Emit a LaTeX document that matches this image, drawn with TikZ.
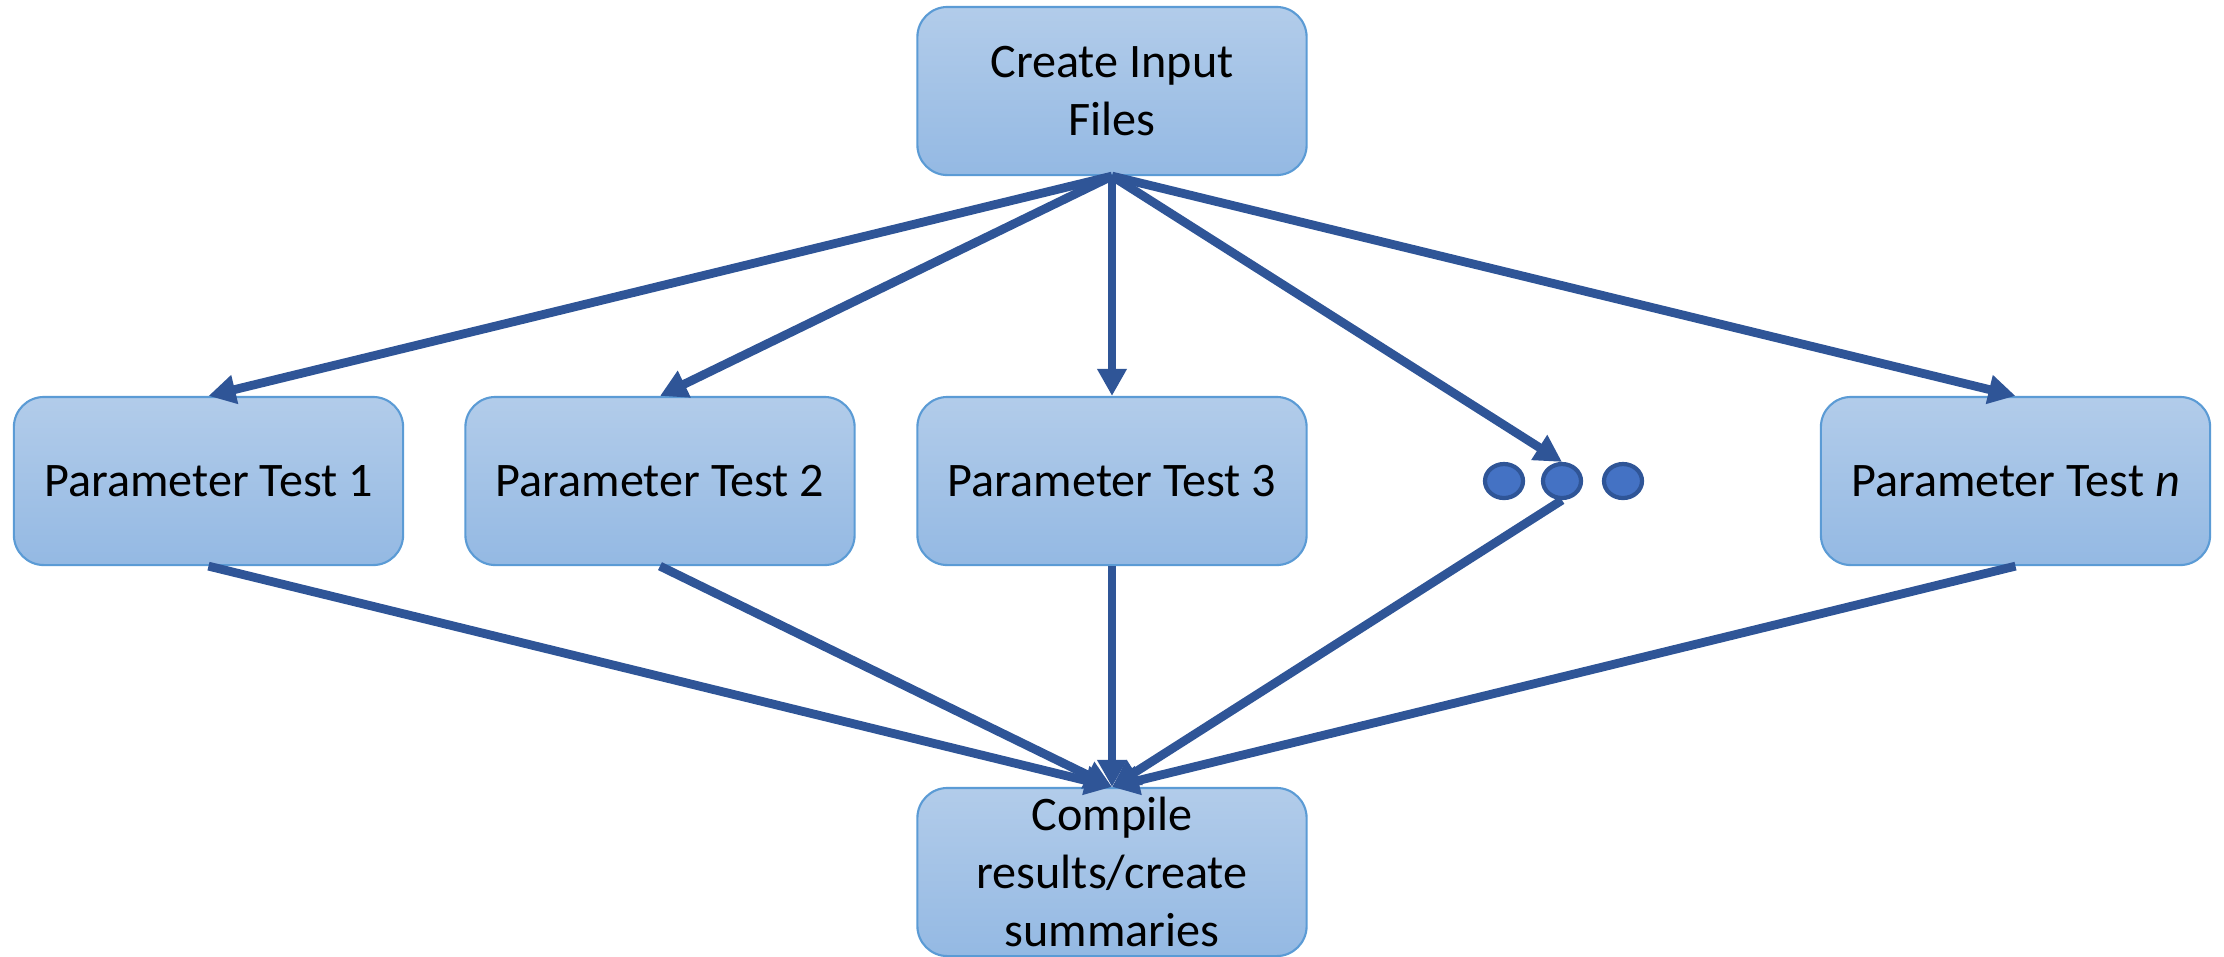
\documentclass[tikz,border=0pt]{standalone}
\usepackage{fontspec}
\setmainfont{Carlito}
\usetikzlibrary{arrows.meta,shapes.geometric}
\definecolor{arrowblue}{RGB}{47,85,151}
\definecolor{boxtop}{RGB}{178,204,234}
\definecolor{boxbot}{RGB}{148,185,227}
\definecolor{boxedge}{RGB}{91,155,213}
\definecolor{dotfill}{RGB}{68,114,196}
\tikzset{
  stepbox/.style={draw=boxedge, line width=0.6pt, rounded corners=0.3cm,
    top color=boxtop, bottom color=boxbot, minimum width=3.89cm, minimum height=1.68cm,
    inner sep=0pt, align=center, font=\fontsize{13.7}{16.4}\selectfont, text=black},
  dotnode/.style={ellipse, draw=arrowblue, fill=dotfill, line width=1.2pt, minimum width=0.38cm, minimum height=0.34cm, inner sep=0pt},
  conn/.style={draw=arrowblue, line width=2.5pt, -{Triangle[length=0.27cm,width=0.28cm]}}
}
\begin{document}
\begin{tikzpicture}[x=0.01cm,y=-0.01cm]
\useasboundingbox (0,0) rectangle (2224,956);
\node[stepbox] (top) at (1112,91) {Create Input\\Files};
\node[stepbox] (p1) at (208.5,481) {Parameter Test 1};
\node[stepbox] (p2) at (660,481) {Parameter Test 2};
\node[stepbox] (p3) at (1112,481) {Parameter Test 3};
\node[stepbox] (pn) at (2015.5,481) {Parameter Test \textit{n}};
\node[stepbox] (bot) at (1112,872) {Compile\\results/create\\summaries};
\node[dotnode] (d1) at (1504,481) {};
\node[dotnode] (d2) at (1562,481) {};
\node[dotnode] (d3) at (1623,481) {};
\draw[conn] (top.south) -- (p1.north);
\draw[conn] (top.south) -- (p2.north);
\draw[conn] (top.south) -- (p3.north);
\draw[conn] (top.south) -- (d2.north);
\draw[conn] (top.south) -- (pn.north);
\draw[conn] (p1.south) -- (bot.north);
\draw[conn] (p2.south) -- (bot.north);
\draw[conn] (p3.south) -- (bot.north);
\draw[conn] (d2.south) -- (bot.north);
\draw[conn] (pn.south) -- (bot.north);
\end{tikzpicture}
\end{document}
